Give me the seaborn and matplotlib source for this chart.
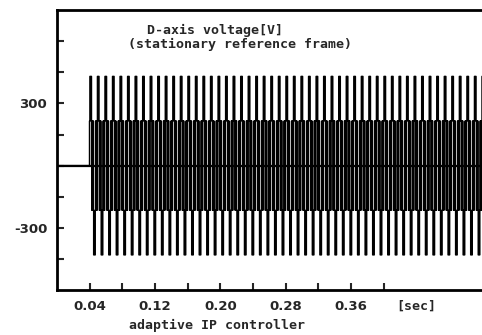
import numpy as np
import pandas as pd
import matplotlib
matplotlib.use('Agg')
import matplotlib.pyplot as plt
import seaborn as sns

# ---- data ----
t_start = 0.04          # sec, inverter starts switching
period = 0.00923        # sec, one electrical cycle (~7.5 px)
n_cycles = 53
# voltage levels [V] inside one cycle (step pattern)
cycle_levels = [215, 430, 430, 430, 430, 215, -215, 215, -215, 215,
                -215, -430, -430, -430, -430, -215, 215, -215, 215, -215]

y_ticks = [-450, -300, -150, 0, 150, 300, 450, 600]
y_labels = ["", "-300", "", "", "", "300", "", ""]
x_ticks = [0.04, 0.08, 0.12, 0.16, 0.20, 0.24, 0.28, 0.32, 0.36, 0.40]
x_labels = ["0.04", "", "0.12", "", "0.20", "", "0.28", "", "0.36", ""]

sns.set_style("ticks")
plt.rcParams['font.family'] = ['DejaVu Sans']

# build the trace: zero before start, then the repeated cycle
steps = len(cycle_levels)
t = [0.0, t_start]
v = [0.0, 0.0]
for k in range(n_cycles):
    for j, lev in enumerate(cycle_levels):
        t.append(t_start + k * period + j * period / steps)
        v.append(lev)
df = pd.DataFrame({"time": t, "volt": v})

fig = plt.figure(figsize=(4.82, 3.35), dpi=100)
# axes run past the right edge of the page (open right side, as in the scan)
ax = fig.add_axes([0.118, 0.134, 0.90, 0.836])

sns.lineplot(data=df, x="time", y="volt", ax=ax, color="black",
             linewidth=1.1, drawstyle="steps-post", estimator=None, sort=False)
ax.axhline(0, color="black", linewidth=1.6)

ax.set_xlim(0, 0.531)
ax.set_ylim(-600, 750)

ax.set_yticks(y_ticks)
ax.set_yticklabels(y_labels)
ax.set_xticks(x_ticks)
ax.set_xticklabels(x_labels)
ax.tick_params(direction="in", length=5, width=1.5, labelsize=9.5, pad=7)
for lab in ax.get_xticklabels() + ax.get_yticklabels():
    lab.set_fontweight("bold")

ax.spines["right"].set_visible(False)
for s in ["left", "top", "bottom"]:
    ax.spines[s].set_linewidth(2)
    ax.spines[s].set_color("black")

ax.set_xlabel("")
ax.set_ylabel("")

mono = "DejaVu Sans Mono"
ax.text(0.44, -0.058, "[sec]", transform=ax.get_xaxis_transform(),
        ha="center", va="center", fontsize=9.5, fontweight="bold",
        family=mono)
fig.text(147 / 482, 1 - 30 / 335, "D-axis voltage[V]", ha="left", va="center",
         fontsize=9.5, fontweight="bold", family=mono)
fig.text(128 / 482, 1 - 44 / 335, "(stationary reference frame)", ha="left",
         va="center", fontsize=9.5, fontweight="bold", family=mono)
fig.text(217 / 482, 1 - 325 / 335, "adaptive IP controller", ha="center",
         va="center", fontsize=9.5, fontweight="bold", family=mono)

fig.savefig("out.png", dpi=100)
